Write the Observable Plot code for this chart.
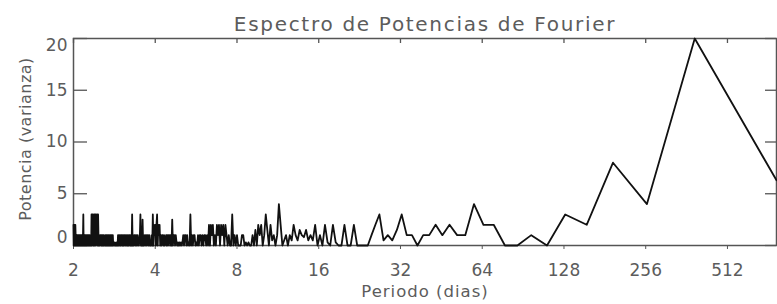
<!DOCTYPE html>
<html><head><meta charset="utf-8">
<script src="https://cdn.jsdelivr.net/npm/d3@7"></script>
<script src="https://cdn.jsdelivr.net/npm/@observablehq/plot@0.6"></script>
<style>body{margin:0;background:#fff;} svg{display:block}</style>
</head><body><div id="chart"></div>
<script>
// Fourier periodogram of an 776-day series; harmonics k = 388 ... 1, listed left to right (period = nDays / k)
const nDays = 776;
const power = [
  2,0,2,1,2,0,2,1,1,0,1,0,1,1,0,1,0,1,1,0,1,0,1,
  1,0,1,0,1,1,0,1,3,0,1,0,1,1,0,1,0,1,0,1,1,0,1,0,1,1,0,1,0,1,
  1,0,3,0,3,1,3,0,2,3,0,3,1,3,0,3,1,2,3,0,3,1,0,1,0,1,1,
  1,0,1,1,0,1,0,1,1,0,0.3,0,1,0,1,1,0,1,0,1,1,0,1,0,1,
  1,0,1,1,0,1,0,0.3,0,0.3,0,0.2,0,0.3,0,0.3,0,1,0,1,1,0,1,
  0,1,1,0,1,0,1,0,0.3,1,0,1,1,0,1,0,1,0,1,1,0,
  1,0,0,3,0,1,0,1,1,0,1,0,1,0,1,0.3,0,0.3,1,3,
  0,1,0,2.5,0,1,0,1,1,0,1,0,1,1,0,1,0,0.3,
  0,1,0,3,0,2,1,2,0,2,3,0,2,1,2,0,
  1,0,1,1,0,1,0,0.3,1,0,1,0,1,1,0,
  1,0,2.5,0,1,1,0,1,0.3,0,0.3,0,0.3,0,
  0.3,0,0.3,1,0,1,1,0,1,0,0.3,0,3,
  0,1,0,1,1,0,0.3,0,1,0,1,1,
  0,1,0,1,1,0,1,0,2,0,
  2,1,2,0,1,0,2,1,2,0,
  2,1,2,0,2,1,0,1,0,
  0,3,0,1,0,1,0,0,
  0,1,1,0,0.3,0,0.3,0,
  0,1,0,1.5,0,2,1,2,0,1,
  3,1.5,0,2,0.5,1,0,1,4,2,
  0,0.5,1,0,1,0.5,2,1,0.5,1.5,
  1,0.8,1.5,0.5,1,0.5,2,0,1,0,
  2,0.3,0,2,0.3,0,0,2,0,0,
  2,0,0,0,0,1,2,3,0.5,1,
  0.5,1.5,3,1,1,0,1,1,2,1,
  2,1,1,4,2,2,0,0,1,0,
  3,2,8,4,20,6.3
];
const xTicks = [2,4,8,16,32,64,128,256,512];
const yTicks = [0,5,10,15,20];
const yTicksMid = [5,10,15];
const title = "Espectro de Potencias de Fourier";
const xLabel = "Periodo (dias)";
const yLabel = "Potencia (varianza)";

const data = power.map((p, i) => ({period: nDays / (power.length - i), power: p}));

const W = 777, H = 304, mt = 38, mb = 59, ml = 73, mr = 1;
const fh = H - mt - mb, fw = W - ml - mr;
const ink = "#555", txt = "#5c5c5c";

const chart = Plot.plot({
  width: W, height: H,
  marginTop: mt, marginBottom: mb, marginLeft: ml, marginRight: mr,
  style: {fontFamily: "DejaVu Sans", background: "#fff", color: txt},
  x: {type: "log", base: 2, domain: [2, nDays]},
  y: {domain: [0, 20]},
  marks: [
    Plot.axisX(xTicks, {tickSize: 4, tickPadding: 14, fontSize: 17, label: null, tickFormat: d => String(d), stroke: ink}),
    Plot.axisY(yTicksMid, {tickSize: 0, tickPadding: 6, fontSize: 17, label: null}),
    Plot.axisY([20], {tickSize: 0, tickPadding: 6, fontSize: 17, label: null, dy: 7}),
    Plot.axisY([0], {tickSize: 0, tickPadding: 6, fontSize: 17, label: null, dy: -7.5}),
    Plot.tickX(xTicks, {x: d => d, insetBottom: fh - 5, stroke: ink, strokeWidth: 1.3}),
    Plot.tickY(yTicks, {y: d => d, insetRight: fw - 14, stroke: ink, strokeWidth: 1.3}),
    Plot.tickY(yTicks, {y: d => d, insetLeft: fw - 11, stroke: ink, strokeWidth: 1.3}),
    Plot.frame({stroke: ink, strokeWidth: 1.5}),
    Plot.line(data, {x: "period", y: "power", stroke: "#111", strokeWidth: 1.8}),
    Plot.text([title], {text: d => d, frameAnchor: "top", dy: -14.4, lineAnchor: "middle", fontSize: 20, fill: txt}),
    Plot.text([xLabel], {text: d => d, frameAnchor: "bottom", dy: 46, lineAnchor: "middle", fontSize: 16.5, fill: txt}),
    Plot.text([yLabel], {text: d => d, frameAnchor: "left", textAnchor: "middle", dx: -48, dy: -3, rotate: -90, lineAnchor: "middle", fontSize: 16, fill: txt})
  ]
});
const spacing = {[title]: "1.7px", [xLabel]: "1px", [yLabel]: "0.5px"};
chart.querySelectorAll("text").forEach(t => {
  if (spacing[t.textContent]) t.style.letterSpacing = spacing[t.textContent];
});
document.getElementById("chart").append(chart);
</script>
</body></html>
